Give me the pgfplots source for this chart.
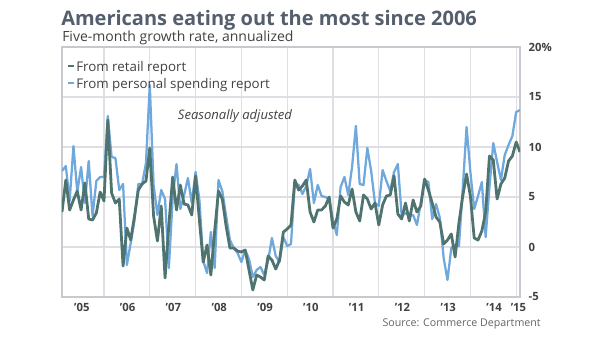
\documentclass[border=0pt]{standalone}
\usepackage{pgfplots}
\pgfplotsset{compat=1.18}
\usepackage{fontspec}
\setmainfont{Open Sans}
\definecolor{retail}{RGB}{79,116,112}
\definecolor{pers}{RGB}{111,168,220}
\definecolor{titlec}{RGB}{84,94,108}
\definecolor{txt}{RGB}{65,65,65}
\definecolor{gridc}{RGB}{222,222,228}
\definecolor{framec}{RGB}{200,200,206}
\pgfplotstableread{
m v
1 3.5
2 6.7
3 3.7
4 4.7
5 5.6
6 3.7
7 6.4
8 2.8
9 2.7
10 3.4
11 5.5
12 4.6
13 12.7
14 5.4
15 4.4
16 4.8
17 -1.9
18 1.9
19 0.7
20 3.1
21 5.7
22 6.3
23 6.6
24 9.9
25 3.1
26 0.6
27 4.1
28 -3.1
29 2.2
30 7.0
31 3.7
32 6.2
33 4.3
34 4.2
35 3.2
36 7.1
37 2.7
38 -1.5
39 0.2
40 -2.8
41 1.6
42 5.6
43 4.8
44 2.1
45 -0.1
46 -0.1
47 -0.4
48 -0.5
49 -0.3
50 -2.3
51 -4.3
52 -2.8
53 -3.0
54 -3.3
55 -0.9
56 -1.3
57 -2.2
58 -1.3
59 1.5
60 1.8
61 2.2
62 6.7
63 5.7
64 6.1
65 6.7
66 3.5
67 2.5
68 3.7
69 3.7
70 4.1
71 5.0
72 1.9
73 2.8
74 5.1
75 4.5
76 4.2
77 5.8
78 3.5
79 2.6
80 5.2
81 4.8
82 3.8
83 4.4
84 2.2
85 4.2
86 5.1
87 5.2
88 7.1
89 3.3
90 2.8
91 4.4
92 2.6
93 4.7
94 3.5
95 4.1
96 6.8
97 5.7
98 4.4
99 3.0
100 2.5
101 0.3
102 0.7
103 1.3
104 -1.0
105 2.4
106 5.1
107 7.3
108 5.1
109 0.9
110 0.7
111 1.6
112 3.5
113 9.1
114 8.7
115 4.8
116 6.3
117 6.9
118 8.6
119 9.1
120 10.5
121 9.5
}\retailtab
\pgfplotstableread{
m v
1 7.6
2 8.1
3 4.6
4 10.1
5 5.5
6 8.0
7 4.4
8 8.6
9 3.1
10 6.6
11 7.0
12 7.0
13 13.1
14 9.0
15 8.9
16 5.7
17 6.3
18 -1.8
19 0.4
20 2.7
21 6.3
22 6.3
23 8.4
24 16.2
25 6.2
26 3.2
27 5.7
28 4.8
29 -2.1
30 4.9
31 8.3
32 3.8
33 5.2
34 6.9
35 4.4
36 7.5
37 4.7
38 -1.4
39 -2.6
40 1.5
41 -2.1
42 6.7
43 5.6
44 3.1
45 0.7
46 -0.1
47 -0.6
48 -1.5
49 -0.3
50 -1.2
51 -3.0
52 -2.3
53 -2.0
54 -2.8
55 -1.4
56 0.9
57 -0.9
58 -1.5
59 1.0
60 0.1
61 0.3
62 6.4
63 6.2
64 5.3
65 6.1
66 7.8
67 4.4
68 6.2
69 5.1
70 5.0
71 4.8
72 2.7
73 1.2
74 6.0
75 7.0
76 5.2
77 8.0
78 12.1
79 6.3
80 6.2
81 9.9
82 7.6
83 4.4
84 4.1
85 7.7
86 6.6
87 5.6
88 7.5
89 8.3
90 3.1
91 3.4
92 3.1
93 3.2
94 2.2
95 4.4
96 6.7
97 6.5
98 2.8
99 4.3
100 2.9
101 -1.1
102 -3.3
103 -0.1
104 0.2
105 0.1
106 5.8
107 12.0
108 7.5
109 3.8
110 5.1
111 6.5
112 1.0
113 6.0
114 10.4
115 8.5
116 6.7
117 9.2
118 10.2
119 11.1
120 13.5
121 13.7
}\perstab
\begin{document}
\begin{tikzpicture}[x=0.75pt,y=-0.75pt]
\useasboundingbox (0,0) rectangle (600,337);
\begin{axis}[at={(46.5pt,-222.75pt)}, anchor=south west, scale only axis,
  width=343.5pt, height=187.5pt,
  xmin=1, xmax=121, ymin=-5, ymax=20,
  axis line style={framec, line width=0.8pt},
  ytick={-5,0,5,10,15,20}, yticklabels={-5,0,5,10,15,20\%},
  yticklabel pos=right,
  yticklabel style={anchor=west, xshift=3pt},
  xtick={6.2,18.2,30.2,42.2,54.2,66.2,78.2,90.2,102.2,114.2,120.6},
  xticklabels={’05,’06,’07,’08,’09,’10,’11,’12,’13,’14,’15},
  xticklabel style={yshift=-1pt},
  minor xtick={12,24,36,48,60,72,84,96,108,120},
  xminorgrids=true, ymajorgrids=true, xmajorgrids=false,
  major tick length=0pt, minor tick length=0pt,
  major grid style={gridc, line width=0.8pt},
  minor grid style={gridc, line width=0.8pt},
  tick label style={font=\bfseries\fontsize{8.5}{10}\selectfont, text=txt},
  /pgf/number format/assume math mode=true,
]
\addplot[pers, line width=1.7pt, line join=round] table[x=m,y=v] {\perstab};
\addplot[retail, line width=2.1pt, line join=round] table[x=m,y=v] {\retailtab};
\end{axis}
\node[anchor=base west, inner sep=0, font=\bfseries\fontsize{15}{18}\selectfont, text=titlec] at (61,25) {Americans eating out the most since 2006};
\node[anchor=base west, inner sep=0, font=\fontsize{10.5}{12}\selectfont, text=txt] at (62,41) {Five-month growth rate, annualized};
\node[anchor=base west, inner sep=0, font=\fontsize{10}{11}\selectfont, text=txt] at (68,71) {\textcolor{retail}{\rule[2.8pt]{4.5pt}{1.4pt}}\hspace{1.5pt}From retail report};
\node[anchor=base west, inner sep=0, font=\fontsize{10}{11}\selectfont, text=txt] at (68,88) {\textcolor{pers}{\rule[2.8pt]{4.5pt}{1.4pt}}\hspace{1.5pt}From personal spending report};
\node[anchor=center, inner sep=0, font=\itshape\fontsize{9.8}{11}\selectfont, text=txt] at (235,116) {Seasonally adjusted};
\node[anchor=base east, inner sep=0, font=\fontsize{8}{10}\selectfont, text={rgb,255:red,100;green,100;blue,100}] at (541,326) {Source: Commerce Department};
\end{tikzpicture}
\end{document}
